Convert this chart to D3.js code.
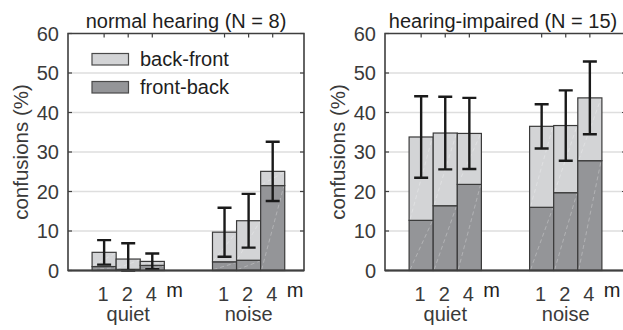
<!DOCTYPE html>
<html><head><meta charset="utf-8">
<script src="https://cdn.jsdelivr.net/npm/d3@7"></script>
<style>body{margin:0;background:#fff}svg{display:block}text{font-family:"Liberation Sans",Arial,Helvetica,sans-serif}</style>
</head><body><svg id="c" width="623" height="330"></svg>
<script>
// ---- data ----
const conditions = ["quiet", "noise"];
const distances = ["1", "2", "4"];
const barPositions = [1, 2, 3, 6, 7, 8];
const yTicks = [0, 10, 20, 30, 40, 50, 60];
const seriesNames = ["back-front", "front-back"];
const panelTitles = ["normal hearing (N = 8)", "hearing-impaired (N = 15)"];
// normal hearing
const nhFrontBack = [1.0, 0.3, 1.3, 2.2, 2.6, 21.5];
const nhBackFront = [3.6, 2.6, 1.0, 7.5, 10.0, 3.6];
const nhErr = [3.1, 4.0, 2.0, 6.2, 6.8, 7.5];
// hearing impaired
const hiFrontBack = [12.7, 16.4, 21.8, 16.0, 19.7, 27.8];
const hiBackFront = [21.1, 18.4, 12.9, 20.5, 17.0, 15.9];
const hiErr = [10.3, 9.2, 9.0, 5.6, 8.9, 9.2];

const colLight = "#d3d4d6", colDark = "#949598", edge = "#3a3a3a", axisCol = "#3f3f3f";
const fs = 20;
const svg = d3.select("#c");

function panel(left, right, xMax, title, fb, bf, err) {
  const top = 33.5, bottom = 270.5;
  const x = d3.scaleLinear().domain([-0.5, xMax]).range([left, right]);
  const y = d3.scaleLinear().domain([0, 60]).range([bottom, top]);
  const unit = x(1) - x(0);
  const g = svg.append("g");
  // grid
  g.selectAll(".grid").data(yTicks.filter(d => d > 0 && d < 60)).join("line")
    .attr("x1", left).attr("x2", right).attr("y1", d => y(d)).attr("y2", d => y(d))
    .attr("stroke", "#dedede").attr("stroke-width", 1.6);
  // inward ticks
  g.selectAll(".tl").data(yTicks).join("line")
    .attr("x1", left).attr("x2", left + 4).attr("y1", d => y(d)).attr("y2", d => y(d))
    .attr("stroke", axisCol).attr("stroke-width", 1.2);
  g.selectAll(".tr").data(yTicks).join("line")
    .attr("x1", right).attr("x2", right - 4).attr("y1", d => y(d)).attr("y2", d => y(d))
    .attr("stroke", axisCol).attr("stroke-width", 1.2);
  g.selectAll(".tt").data(barPositions).join("line")
    .attr("x1", d => x(d)).attr("x2", d => x(d)).attr("y1", top).attr("y2", top + 4)
    .attr("stroke", axisCol).attr("stroke-width", 1.2);
  // bars
  const data = barPositions.map((p, i) => ({p, fb: fb[i], bf: bf[i], err: err[i]}));
  const bars = g.selectAll(".bar").data(data).join("g");
  function patch(sel, y0f, y1f, fill) {
    sel.append("rect")
      .attr("x", d => x(d.p) - unit / 2).attr("width", unit)
      .attr("y", d => y(y1f(d))).attr("height", d => y(y0f(d)) - y(y1f(d)))
      .attr("fill", fill).attr("stroke", edge).attr("stroke-width", 1.2);
    sel.append("line")
      .attr("x1", d => x(d.p) - unit / 2 + 1).attr("y1", d => y(y0f(d)) - 1)
      .attr("x2", d => x(d.p) + unit / 2 - 1).attr("y2", d => y(y1f(d)) + 1)
      .attr("stroke", "#fff").attr("stroke-opacity", 0.35).attr("stroke-width", 0.8)
      .attr("stroke-dasharray", "4,3");
  }
  patch(bars, d => 0, d => d.fb, colDark);
  patch(bars, d => d.fb, d => d.fb + d.bf, colLight);
  // error bars
  const cap = 7;
  bars.append("path")
    .attr("d", d => {
      const c = x(d.p), t = d.fb + d.bf;
      const hi = y(t + d.err), lo = y(Math.max(0, t - d.err));
      return `M${c},${hi}V${lo}M${c - cap},${hi}H${c + cap}M${c - cap},${lo}H${c + cap}`;
    })
    .attr("fill", "none").attr("stroke", "#1a1a1a").attr("stroke-width", 2.4);
  // box
  g.append("path")
    .attr("d", `M${left},${bottom}V${top}H${right}V${bottom}Z`)
    .attr("fill", "none").attr("stroke", axisCol).attr("stroke-width", 1.6);
  g.append("line").attr("x1", left).attr("x2", right).attr("y1", bottom).attr("y2", bottom)
    .attr("stroke", axisCol).attr("stroke-width", 2);
  // y tick labels
  g.selectAll(".yl").data(yTicks).join("text")
    .attr("x", left - 9).attr("y", d => y(d)).attr("dy", "0.35em")
    .attr("text-anchor", "end").attr("font-size", fs).attr("fill", "#3a3a3a").text(d => d);
  // y label
  g.append("text").attr("transform", `translate(${left - 40},${(top + bottom) / 2}) rotate(-90)`)
    .attr("text-anchor", "middle").attr("font-size", 20.5).attr("fill", "#3a3a3a").text("confusions (%)");
  // title
  g.append("text").attr("x", left + 118).attr("y", 27.5)
    .attr("text-anchor", "middle").attr("font-size", fs).attr("fill", "#1e1e1e").text(title);
  // x tick labels
  g.selectAll(".xl").data(barPositions).join("text")
    .attr("x", d => x(d) - 1).attr("y", 301).attr("text-anchor", "middle")
    .attr("font-size", fs).attr("fill", "#3a3a3a").text((d, i) => distances[i % 3]);
  g.selectAll(".mu").data([barPositions[2], barPositions[5]]).join("text")
    .attr("x", d => x(d) + 14).attr("y", 297)
    .attr("font-size", fs).attr("fill", "#1e1e1e").text("m");
  g.selectAll(".cl").data(conditions).join("text")
    .attr("x", (d, i) => x(barPositions[i * 3 + 1])).attr("y", 321)
    .attr("text-anchor", "middle").attr("font-size", fs).attr("fill", "#3a3a3a").text(d => d);
  return {x, y, g};
}

const p1 = panel(68, 304, 9.3, panelTitles[0], nhFrontBack, nhBackFront, nhErr);
panel(385, 626, 9.5, panelTitles[1], hiFrontBack, hiBackFront, hiErr);

// legend (left panel)
const legCols = [colLight, colDark];
const leg = p1.g.selectAll(".leg").data(seriesNames).join("g")
  .attr("transform", (d, i) => `translate(92,${53.5 + i * 28})`);
leg.append("rect").attr("width", 36.5).attr("height", 11.5)
  .attr("fill", (d, i) => legCols[i]).attr("stroke", "#4a4a4a").attr("stroke-width", 1.2);
leg.append("text").attr("x", 48).attr("y", 12.5).attr("font-size", fs).attr("fill", "#1e1e1e").text(d => d);
</script></body></html>
